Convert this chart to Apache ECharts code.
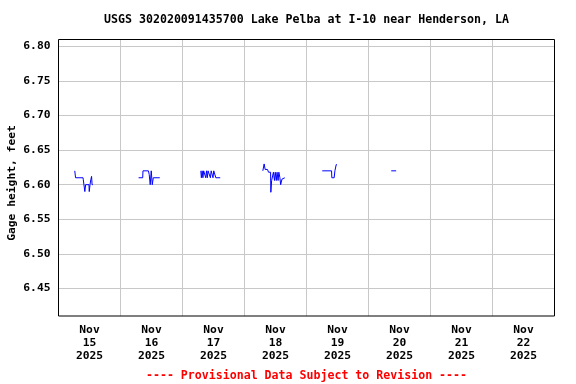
<!DOCTYPE html>
<html>
<head>
<meta charset="utf-8">
<script src="https://cdn.jsdelivr.net/npm/echarts@6/dist/echarts.min.js"></script>
<style>html,body{margin:0;padding:0;background:#fff}#c{width:576px;height:384px}</style>
</head>
<body>
<div id="c"></div>
<script>
// ---- data (hour of day, gage height in feet) ----
const titleText = 'USGS 302020091435700 Lake Pelba at I-10 near Henderson, LA';
const yAxisName = 'Gage height, feet';
const footerText = '---- Provisional Data Subject to Revision ----';
const xTickLabels = ['Nov\n15\n2025','Nov\n16\n2025','Nov\n17\n2025','Nov\n18\n2025','Nov\n19\n2025','Nov\n20\n2025','Nov\n21\n2025','Nov\n22\n2025'];
const yTickValues = [6.45, 6.50, 6.55, 6.60, 6.65, 6.70, 6.75, 6.80];

const nov15 = [[6.3,6.62],[6.6,6.61],[9.5,6.61],[9.6,6.607],[10.1,6.607],[10.2,6.59],[10.4,6.59],[10.5,6.60],[11.8,6.60],[11.9,6.59],[12.1,6.59],[12.2,6.60],[12.5,6.607],[12.8,6.612],[13.0,6.60],[13.3,6.60]];
const nov16 = [[7.0,6.61],[8.6,6.61],[8.7,6.62],[10.8,6.62],[11.1,6.615],[11.5,6.60],[11.9,6.62],[12.3,6.60],[12.7,6.61],[15.2,6.61]];
const nov17 = [[7.1,6.62],[7.3,6.61],[7.6,6.62],[7.9,6.61],[8.2,6.62],[8.8,6.62],[9.0,6.61],[9.3,6.62],[9.6,6.61],[9.9,6.62],[10.6,6.62],[10.8,6.61],[11.1,6.62],[11.6,6.62],[11.8,6.61],[12.1,6.62],[12.7,6.62],[12.9,6.61],[14.6,6.61]];
const nov18 = [[7.1,6.62],[7.6,6.63],[8.0,6.622],[8.9,6.622],[9.3,6.618],[10.1,6.618],[10.2,6.589],[10.4,6.589],[10.5,6.606],[11.0,6.606],[11.2,6.618],[11.6,6.606],[11.9,6.618],[12.3,6.606],[12.6,6.618],[13.0,6.606],[13.3,6.618],[13.7,6.61],[14.0,6.60],[14.3,6.60],[14.5,6.608],[14.9,6.61],[15.6,6.61]];
const nov19 = [[6.1,6.62],[9.7,6.62],[9.8,6.61],[10.7,6.61],[11.0,6.62],[11.4,6.62],[11.5,6.629],[11.8,6.629]];
const nov20 = [[8.8,6.62],[10.7,6.62]];
const segments = [nov15, nov16, nov17, nov18, nov19, nov20];

const font = 'DejaVu Sans Mono';
const chart = echarts.init(document.getElementById('c'), null, {renderer:'canvas'});
const dayTicks = xTickLabels.map((_, i) => i * 24).slice(1);
const noonTicks = xTickLabels.map((_, i) => i * 24 + 12);
const plotCenterX = 58.5 + 496 / 2;

chart.setOption({
  animation: false,
  backgroundColor: '#fff',
  grid: {left: 58.5, top: 39.5, width: 496, height: 276.5, show: false, containLabel: false},
  xAxis: {
    type: 'value', min: 0, max: 192,
    axisLine: {show: false},
    axisTick: {show: false, customValues: dayTicks},
    splitLine: {show: true, lineStyle: {color: '#c8c8c8', width: 1}},
    axisLabel: {
      customValues: noonTicks, margin: 8,
      fontFamily: font, fontWeight: 'bold', fontSize: 11.3, color: '#000', lineHeight: 13,
      formatter: v => xTickLabels[Math.round((v - 12) / 24)] || ''
    }
  },
  yAxis: {
    type: 'value', min: 6.41, max: 6.81,
    axisLine: {show: false},
    axisTick: {show: false, customValues: yTickValues},
    splitLine: {show: true, lineStyle: {color: '#c8c8c8', width: 1}},
    axisLabel: {
      customValues: yTickValues, margin: 8,
      fontFamily: font, fontWeight: 'bold', fontSize: 11.3, color: '#000',
      formatter: v => v.toFixed(2)
    }
  },
  graphic: [
    {type: 'rect', z: 100, silent: true, shape: {x: 58.5, y: 39.5, width: 496, height: 276.5}, style: {fill: 'none', stroke: '#000', lineWidth: 1}},
    {type: 'text', x: plotCenterX, y: 20, style: {text: titleText, fontFamily: font, fontWeight: 'bold', fontSize: 11.6, fill: '#000', align: 'center', verticalAlign: 'middle'}},
    {type: 'text', x: plotCenterX, y: 376, style: {text: footerText, fontFamily: font, fontWeight: 'bold', fontSize: 11.6, fill: '#ff0000', align: 'center', verticalAlign: 'middle'}},
    {type: 'text', x: 12, y: 183, rotation: Math.PI / 2, style: {text: yAxisName, fontFamily: font, fontWeight: 'bold', fontSize: 11.3, fill: '#000', align: 'center', verticalAlign: 'middle'}}
  ],
  series: segments.map((seg, d) => ({
    type: 'line',
    data: seg.map(p => [d * 24 + p[0], p[1]]),
    showSymbol: false, symbol: 'none',
    lineStyle: {color: '#0000ff', width: 1},
    silent: true
  }))
});
</script>
</body>
</html>
